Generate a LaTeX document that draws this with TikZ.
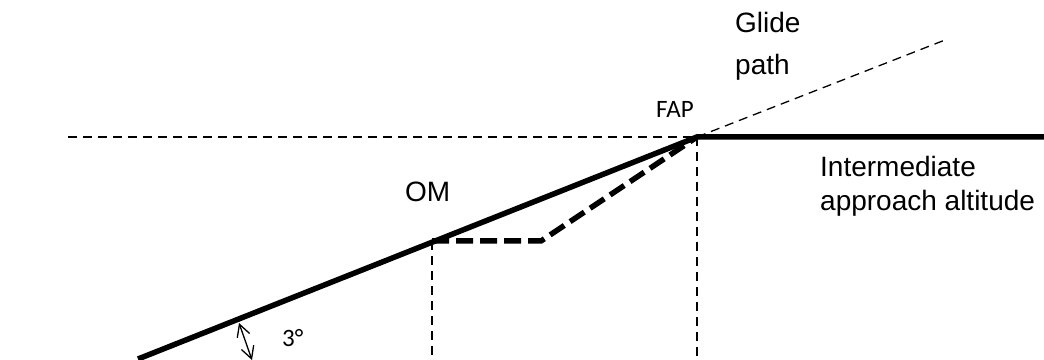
\documentclass[tikz,border=0pt]{standalone}
\usepackage{fontspec}
\setmainfont{Liberation Sans}
\newfontfamily\calfont{Carlito}
\usepackage{tikz}
\usetikzlibrary{arrows.meta,positioning,calc}
\tikzset{
  >={Straight Barb[length=12pt,width=13pt]},
  path/.style={draw=black,line width=5.5pt},
  dpath/.style={path,dash pattern=on 17pt off 7pt},
  guide/.style={draw=black,line width=1.3pt,dash pattern=on 9pt off 6pt},
  lab/.style={inner sep=0pt,align=left,font=\fontsize{28}{34}\selectfont},
  clab/.style={inner sep=0pt,font=\calfont\fontsize{25}{30}\selectfont},
  arr/.style={<->,draw=black,line width=1.3pt},
}
\begin{document}
\begin{tikzpicture}[x=1pt,y=1pt]
\useasboundingbox (0,0) rectangle (1044,359);
% points on the approach
\coordinate (gs) at (138,0);
\coordinate (om) at (432,118);
\coordinate (lvl) at (541,118);
\coordinate (fap) at (697,222);
\coordinate (gpend) at (945,319);
\coordinate (hl) at (68,222);
\coordinate (hr) at (1044,222);
\coordinate (omb) at (432,0);
\coordinate (fapb) at (697,0);
\coordinate (ang1) at (239,36);
\coordinate (ang2) at (252,-1);
% guide lines
\draw[guide] (hl) -- (fap);
\draw[guide] (fap) -- (gpend);
\draw[guide] (om) -- (omb);
\draw[guide] (fap) -- (fapb);
% glide path and level-off
\draw[path] (gs) -- (fap) -- (hr);
\draw[dpath] (om) -- (lvl) -- (fap);
\draw[arr] (ang1) -- (ang2);
% labels
\node[lab,anchor=north west,font=\fontsize{28}{42}\selectfont] (glide) at (735,347) {Glide\\path};
\node[lab,anchor=north west] (inter) at (820,203) {Intermediate\\approach altitude};
\node[lab,anchor=base west] (omlab) at (405,157) {OM};
\node[clab,anchor=base west] (faplab) at (656,241) {FAP};
\node[clab,anchor=base west] (deg) at (282,13) {3°};
\end{tikzpicture}
\end{document}
